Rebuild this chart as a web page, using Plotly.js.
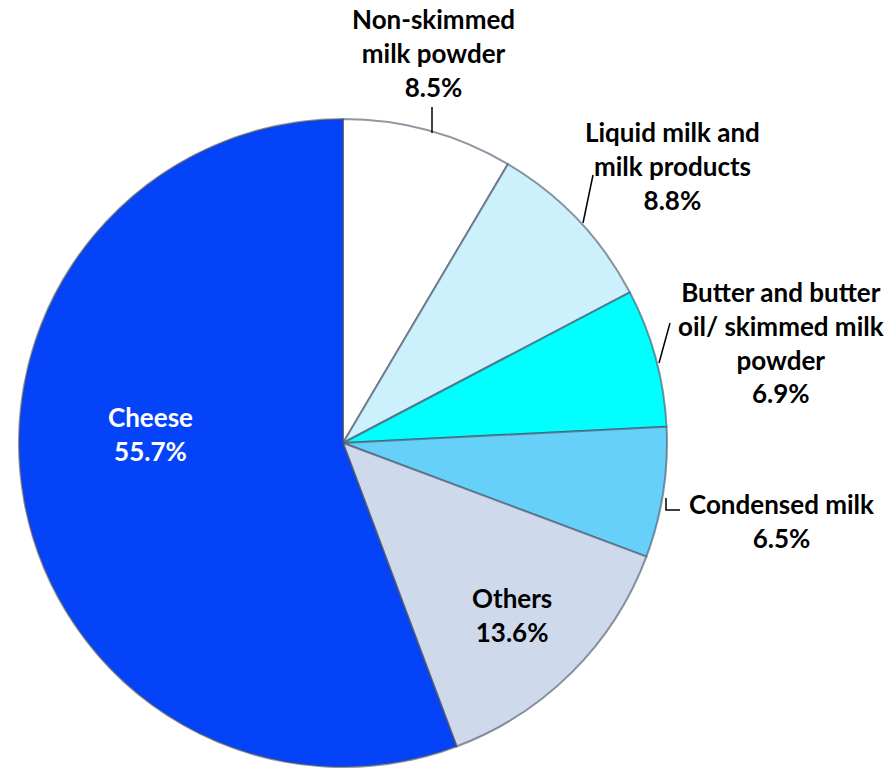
<!DOCTYPE html>
<html>
<head>
<meta charset="utf-8">
<script src="https://cdn.plot.ly/plotly-3.0.1.min.js"></script>
<style>html,body{margin:0;padding:0;background:#fff;}#chart{width:890px;height:773px;}</style>
</head>
<body>
<div id="chart"></div>
<script>
const categories = ["Non-skimmed milk powder", "Liquid milk and milk products", "Butter and butter oil/ skimmed milk powder", "Condensed milk", "Others", "Cheese"];
const shares = [8.5, 8.8, 6.9, 6.5, 13.6, 55.7];
const labelLines = [
  ["Non-skimmed", "milk powder"],
  ["Liquid milk and", "milk products"],
  ["Butter and butter", "oil/ skimmed milk", "powder"],
  ["Condensed milk"],
  ["Others"],
  ["Cheese"]
];
const sliceColors = ["#FFFFFF", "#CCF0FC", "#00FFFF", "#66D0F8", "#CFD9EC", "#0543F8"];

const W = 890, H = 773;
const cx = 343, cy = 443, r = 324;
const px = x => x / W, py = y => 1 - y / H;

const trace = {
  type: "pie",
  labels: categories,
  values: shares,
  sort: false,
  direction: "clockwise",
  rotation: 0,
  textinfo: "none",
  hoverinfo: "label+percent",
  marker: { colors: sliceColors, line: { color: "rgba(70,80,100,0.6)", width: 2 } },
  domain: { x: [px(cx - r), px(cx + r)], y: [py(cy + r), py(cy - r)] },
  showlegend: false
};

// label anchor positions (pixel centres of the text blocks)
const labelPos = [
  { x: 433, y: 53 },
  { x: 672, y: 166 },
  { x: 781, y: 342 },
  { x: 781, y: 521 },
  { x: 512, y: 615 },
  { x: 150, y: 434 }
];
const textColors = ["#000", "#000", "#000", "#000", "#000", "#fff"];

const annotations = categories.map((c, i) => ({
  xref: "paper", yref: "paper",
  x: px(labelPos[i].x), y: py(labelPos[i].y),
  xanchor: "center", yanchor: "middle",
  text: labelLines[i].concat([shares[i].toFixed(1) + "%"]).join("<br>"),
  showarrow: false,
  align: "center",
  font: { family: "Lato, 'Open Sans', sans-serif", size: 26, color: textColors[i], weight: 700 }
}));

const lineStyle = { color: "#000", width: 1.5 };
const shapes = [
  { type: "line", xref: "paper", yref: "paper", x0: px(432), y0: py(107), x1: px(432), y1: py(133), line: lineStyle },
  { type: "line", xref: "paper", yref: "paper", x0: px(583), y0: py(223), x1: px(593), y1: py(175), line: lineStyle },
  { type: "line", xref: "paper", yref: "paper", x0: px(659), y0: py(363), x1: px(670), y1: py(323), line: lineStyle },
  { type: "path", xref: "paper", yref: "paper",
    path: "M " + px(666) + " " + py(498) + " L " + px(666) + " " + py(510) + " L " + px(680) + " " + py(510),
    line: lineStyle }
];

const layout = {
  width: W, height: H,
  margin: { l: 0, r: 0, t: 0, b: 0 },
  paper_bgcolor: "#fff",
  annotations: annotations,
  shapes: shapes
};

Plotly.newPlot("chart", [trace], layout, { displayModeBar: false, staticPlot: true });
</script>
</body>
</html>
